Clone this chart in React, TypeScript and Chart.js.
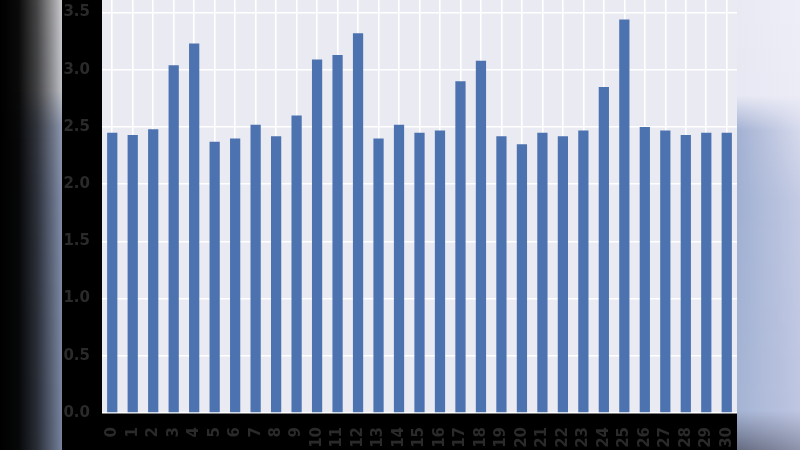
import React, { useEffect, useRef } from "react";
import { Chart, registerables } from "chart.js";

Chart.register(...registerables);

const categories = ["0","1","2","3","4","5","6","7","8","9","10","11","12","13","14","15","16","17","18","19","20","21","22","23","24","25","26","27","28","29","30"];
const values = [2.45, 2.43, 2.48, 3.04, 3.23, 2.37, 2.40, 2.52, 2.42, 2.60, 3.09, 3.13, 3.32, 2.40, 2.52, 2.45, 2.47, 2.90, 3.08, 2.42, 2.35, 2.45, 2.42, 2.47, 2.85, 3.44, 2.50, 2.47, 2.43, 2.45, 2.45];
const yTickValues = [0, 0.5, 1.0, 1.5, 2.0, 2.5, 3.0, 3.5];
const yMax = 3.61;

type Stop = [number, number[]];

function colorAt(stops: Stop[], y: number): number[] {
  if (y <= stops[0][0]) return stops[0][1];
  for (let i = 1; i < stops.length; i++) {
    if (y <= stops[i][0]) {
      const [y0, c0] = stops[i - 1];
      const [y1, c1] = stops[i];
      const t = (y - y0) / (y1 - y0);
      return c0.map((v, k) => v + (c1[k] - v) * t);
    }
  }
  return stops[stops.length - 1][1];
}

const rgb = (c: number[], a = 1) => `rgba(${Math.round(c[0])},${Math.round(c[1])},${Math.round(c[2])},${a})`;

const leftEdge: Stop[] = [
  [0, [202, 202, 206]],
  [90, [190, 192, 198]],
  [125, [142, 152, 175]],
  [200, [128, 140, 168]],
  [450, [118, 130, 158]],
];
const rightL: Stop[] = [
  [0, [233, 233, 243]],
  [95, [231, 232, 243]],
  [130, [162, 176, 210]],
  [200, [160, 176, 210]],
  [410, [165, 180, 212]],
  [450, [100, 106, 128]],
];
const rightR: Stop[] = [
  [0, [238, 238, 248]],
  [95, [236, 236, 247]],
  [130, [214, 218, 236]],
  [200, [196, 203, 228]],
  [410, [190, 198, 226]],
  [450, [140, 146, 170]],
];

const framePlugin = {
  id: "frame",
  beforeDraw(chart: any) {
    const ctx = chart.ctx as CanvasRenderingContext2D;
    const W = chart.width;
    const H = chart.height;
    const a = chart.chartArea;
    ctx.save();
    ctx.fillStyle = "#000";
    ctx.fillRect(0, 0, W, H);
    const lw = 62;
    for (let y = 0; y < H; y++) {
      const c = colorAt(leftEdge, y);
      const g = ctx.createLinearGradient(0, 0, lw, 0);
      g.addColorStop(0, "rgba(0,0,0,1)");
      g.addColorStop(0.3, rgb(c.map((v) => v * 0.05)));
      g.addColorStop(0.6, rgb(c.map((v) => v * 0.35)));
      g.addColorStop(0.85, rgb(c.map((v) => v * 0.75)));
      g.addColorStop(1, rgb(c));
      ctx.fillStyle = g;
      ctx.fillRect(0, y, lw, 1);
    }
    const rx = a.right;
    for (let y = 0; y < H; y++) {
      const cl = colorAt(rightL, y);
      const cr = colorAt(rightR, y);
      const g = ctx.createLinearGradient(rx, 0, W, 0);
      g.addColorStop(0, rgb(cl));
      g.addColorStop(1, rgb(cr));
      ctx.fillStyle = g;
      ctx.fillRect(rx, y, W - rx, 1);
    }
    ctx.fillStyle = "#EAEAF2";
    ctx.fillRect(a.left, a.top, a.right - a.left, a.bottom - a.top);
    ctx.restore();
  },
};

export default function App() {
  const ref = useRef<HTMLCanvasElement | null>(null);
  useEffect(() => {
    document.body.style.margin = "0";
    const canvas = ref.current;
    if (!canvas) return;
    const font = { family: "DejaVu Sans", size: 15, weight: "bold" as const };
    const chart = new Chart(canvas, {
      type: "bar",
      data: {
        labels: categories,
        datasets: [
          {
            data: values,
            backgroundColor: "#4C72B0",
            borderWidth: 0,
            barPercentage: 0.5,
            categoryPercentage: 1,
          },
        ],
      },
      options: {
        animation: false,
        responsive: false,
        devicePixelRatio: 1,
        layout: { padding: { left: 62, right: 63, top: 0, bottom: 0 } },
        plugins: { legend: { display: false }, tooltip: { enabled: false } },
        scales: {
          x: {
            grid: { color: "#FFFFFF", lineWidth: 1.6, offset: false, drawTicks: false },
            border: { display: false },
            ticks: {
              autoSkip: false,
              maxRotation: 90,
              minRotation: 90,
              padding: 14,
              color: "#2a2a2a",
              font,
            },
            afterFit: (s: any) => {
              s.height = 37;
              s.paddingLeft = 0;
              s.paddingRight = 0;
            },
          },
          y: {
            min: 0,
            max: yMax,
            grid: { color: "#FFFFFF", lineWidth: 1.6, drawTicks: false },
            border: { display: false },
            afterBuildTicks: (s: any) => {
              s.ticks = yTickValues.map((v) => ({ value: v }));
            },
            ticks: {
              padding: 12,
              color: "#2a2a2a",
              font,
              callback: (v: any) => Number(v).toFixed(1),
            },
            afterFit: (s: any) => {
              s.width = 40;
              s.paddingTop = 0;
              s.paddingBottom = 0;
            },
          },
        },
      },
      plugins: [framePlugin],
    });
    return () => chart.destroy();
  }, []);
  return <canvas ref={ref} width={800} height={450} style={{ display: "block" }} />;
}
